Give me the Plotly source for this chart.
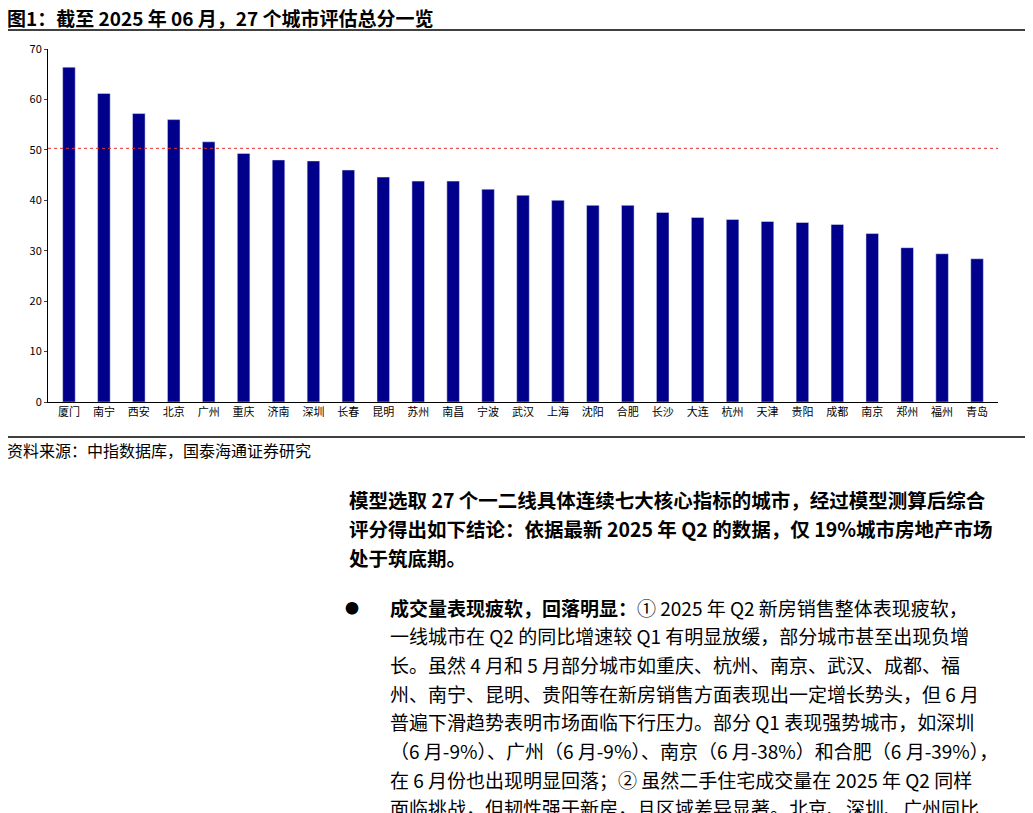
import plotly.graph_objects as go

cities = ["厦门","南宁","西安","北京","广州","重庆","济南","深圳","长春","昆明","苏州","南昌","宁波","武汉","上海","沈阳","合肥","长沙","大连","杭州","天津","贵阳","成都","南京","郑州","福州","青岛"]
scores = [66.4,61.2,57.2,56.0,51.6,49.3,48.0,47.8,46.0,44.6,43.8,43.8,42.2,41.0,40.0,39.0,39.0,37.6,36.6,36.2,35.8,35.6,35.2,33.4,30.6,29.4,28.4]
threshold = 50.3
yticks = [0,10,20,30,40,50,60,70]

title = "<b>图1：截至 2025 年 06 月，27 个城市评估总分一览</b>"
source = "资料来源：中指数据库，国泰海通证券研究"
para1 = ["<b>模型选取 27 个一二线具体连续七大核心指标的城市，经过模型测算后综合</b>",
         "<b>评分得出如下结论：依据最新 2025 年 Q2 的数据，仅 19%城市房地产市场</b>",
         "<b>处于筑底期。</b>"]
para2 = ["<b>成交量表现疲软，回落明显：</b>① 2025 年 Q2 新房销售整体表现疲软，",
         "一线城市在 Q2 的同比增速较 Q1 有明显放缓，部分城市甚至出现负增",
         "长。虽然 4 月和 5 月部分城市如重庆、杭州、南京、武汉、成都、福",
         "州、南宁、昆明、贵阳等在新房销售方面表现出一定增长势头，但 6 月",
         "普遍下滑趋势表明市场面临下行压力。部分 Q1 表现强势城市，如深圳",
         "（6 月-9%）、广州（6 月-9%）、南京（6 月-38%）和合肥（6 月-39%），",
         "在 6 月份也出现明显回落；② 虽然二手住宅成交量在 2025 年 Q2 同样",
         "面临挑战，但韧性强于新房，且区域差异显著。北京、深圳、广州同比"]

O = 8  # page offset
W, H = 1033 - O, 813
L, R, T, B = 48 - O, 998 - O, 49 - O, 402 - O
def px(x): return (x - O - L) / (R - L)
def py(y): return (B - (y - O)) / (B - T)

fig = go.Figure(go.Bar(x=cities, y=scores, marker_color="#00008B", width=0.36))
fig.add_shape(type="line", xref="paper", x0=0, x1=1, yref="y", y0=threshold, y1=threshold,
              line=dict(color="#E03030", width=1, dash="dot"))
font = "Noto Sans CJK SC"
ann = []
ann.append(dict(text=title, x=px(5), y=py(18), xanchor="left", yanchor="middle", font=dict(size=19, color="black")))
ann.append(dict(text=source, x=px(5), y=py(450), xanchor="left", yanchor="middle", font=dict(size=16, color="black")))
for i, t in enumerate(para1):
    ann.append(dict(text=t, x=px(347), y=py(499 + i * 29), xanchor="left", yanchor="middle", font=dict(size=19.5, color="black")))
ann.append(dict(text="●", x=px(352), y=py(607), xanchor="center", yanchor="middle", font=dict(size=14, color="black")))
for i, t in enumerate(para2):
    ann.append(dict(text=t, x=px(388), y=py(607 + i * 28.7), xanchor="left", yanchor="middle", font=dict(size=19, color="black")))
for a in ann:
    a.update(xref="paper", yref="paper", showarrow=False)
fig.update_layout(annotations=ann)
for y in (30, 437):
    fig.add_shape(type="line", xref="paper", yref="paper", x0=px(0), x1=px(1027), y0=py(y), y1=py(y),
                  line=dict(color="black", width=1.5))
fig.update_layout(
    width=W, height=H, margin=dict(l=L, r=W - R, t=T, b=H - B),
    paper_bgcolor="white", plot_bgcolor="white", showlegend=False,
    font=dict(family=font, color="black"),
    xaxis=dict(showline=True, linecolor="black", ticks="", tickfont=dict(size=11), range=[-0.6, 26.6]),
    yaxis=dict(range=[0, 70], tickvals=yticks, showgrid=False, showline=True, linecolor="black",
               ticks="outside", ticklen=3, tickfont=dict(size=11)),
)
fig.write_html("out.html")
